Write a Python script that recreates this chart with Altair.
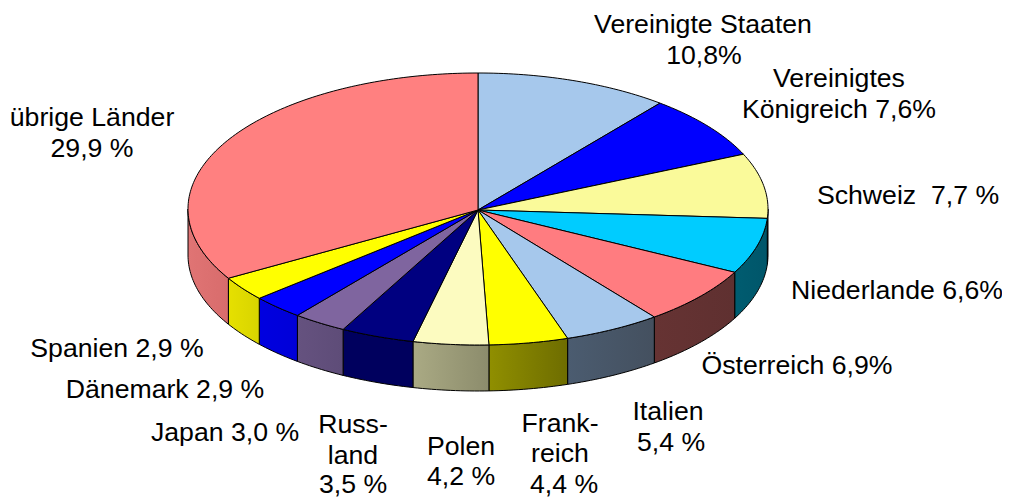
import math
import altair as alt
import pandas as pd

# Slice names, shares as drawn (degrees follow these), printed labels
names = ["Vereinigte Staaten", "Vereinigtes Königreich", "Schweiz", "Niederlande", "Österreich",
         "Italien", "Frankreich", "Polen", "Russland", "Japan", "Dänemark", "Spanien", "übrige Länder"]
shares = [10.8, 7.6, 7.7, 6.6, 6.9, 5.4, 4.4, 4.2, 4.1, 3.0, 2.9, 2.9, 33.5]
top_colors = ["#A6C8EC", "#0000FF", "#FAFA9A", "#00CCFF", "#FF7C80", "#A6C8EC", "#FFFF00",
              "#FCFBC0", "#000080", "#7F659F", "#0000FF", "#FFFF00", "#FF8080"]
side_from = ["#54657A", "#00007F", "#7D7D4D", "#005C70", "#663333", "#4B5C70", "#908F00",
             "#AAAA84", "#00005E", "#65527F", "#0000E0", "#E6E000", "#E07474"]
side_to = ["#54657A", "#00007F", "#7D7D4D", "#00566A", "#5F3030", "#44505F", "#6E6D00",
           "#8C8C6C", "#00005E", "#5E4C78", "#0000D8", "#D8D400", "#D86C6C"]

label_text = ["Vereinigte Staaten", "10,8%", "Vereinigtes", "Königreich 7,6%", "Schweiz\u00a0 7,7 %",
              "Niederlande 6,6%", "Österreich 6,9%", "Italien", "5,4 %", "Frank-", "reich", "4,4 %",
              "Polen", "4,2 %", "Russ-", "land", "3,5 %", "Japan 3,0 %", "Dänemark 2,9 %",
              "Spanien 2,9 %", "übrige Länder", "29,9 %"]
label_x = [703, 704, 839, 839, 908, 897, 797, 668, 671, 560, 560, 564, 461, 461, 353, 353, 353,
           225, 165, 117, 92, 92]
label_y = [33, 64, 87, 118, 204, 299, 374, 420, 451, 432, 462, 493, 455, 485, 433, 464, 493,
           441, 398, 357, 126, 157]

CX, CY, HUB_Y, RX, RY, DEPTH = 478, 209, 210, 290, 136, 46


def rim(deg):
    t = math.radians(deg)
    return CX + RX * math.sin(t), CY - RY * math.cos(t)


def arc(a0, a1):
    n = max(2, int(abs(a1 - a0)) + 2)
    return [rim(a0 + (a1 - a0) * i / (n - 1)) for i in range(n)]


def frame(pts):
    return pd.DataFrame({"x": [p[0] for p in pts], "y": [p[1] for p in pts], "i": range(len(pts))})


sx = alt.Scale(domain=[8, 1002], range=[0, 994], nice=False, zero=False)
sy = alt.Scale(domain=[8, 498], range=[0, 490], nice=False, zero=False)
X = alt.X("x:Q", scale=sx, axis=None)
Y = alt.Y("y:Q", scale=sy, axis=None)

layers = []
total = sum(shares)
bounds = [0.0]
for s in shares:
    bounds.append(bounds[-1] + s / total * 360)

# side walls (front half of the disc only)
for k in range(len(shares)):
    a0, a1 = max(bounds[k], 90), min(bounds[k + 1], 270)
    if a1 <= a0:
        continue
    upper = arc(a0, a1)
    lower = [(x, y + DEPTH) for x, y in reversed(upper)]
    pts = upper + lower + [upper[0]]
    c_left, c_right = side_from[k], side_to[k]
    grad = alt.Gradient(gradient="linear", x1=0, x2=1, y1=0, y2=0,
                        stops=[alt.GradientStop(color=c_left, offset=0),
                               alt.GradientStop(color=c_right, offset=1)])
    layers.append(alt.Chart(frame(pts)).mark_line(fill=grad, stroke="#000000", strokeWidth=1)
                  .encode(x=X, y=Y, order="i:Q"))

# top surface
for k in range(len(shares)):
    pts = [(CX, HUB_Y)] + arc(bounds[k], bounds[k + 1]) + [(CX, HUB_Y)]
    layers.append(alt.Chart(frame(pts)).mark_line(fill=top_colors[k], stroke="#000000", strokeWidth=1)
                  .encode(x=X, y=Y, order="i:Q"))

labels = pd.DataFrame({"x": label_x, "y": label_y, "t": label_text})
layers.append(alt.Chart(labels).mark_text(font="Liberation Sans", fontSize=26.67, color="#000000",
                                          align="center", baseline="alphabetic")
              .encode(x=X, y=Y, text="t:N"))

chart = alt.layer(*layers).properties(
    width=994, height=490, padding=0, autosize=alt.AutoSizeParams(type="none")
).configure_view(stroke=None)

chart.save("out.html", embed_options={"renderer": "svg", "actions": False})
